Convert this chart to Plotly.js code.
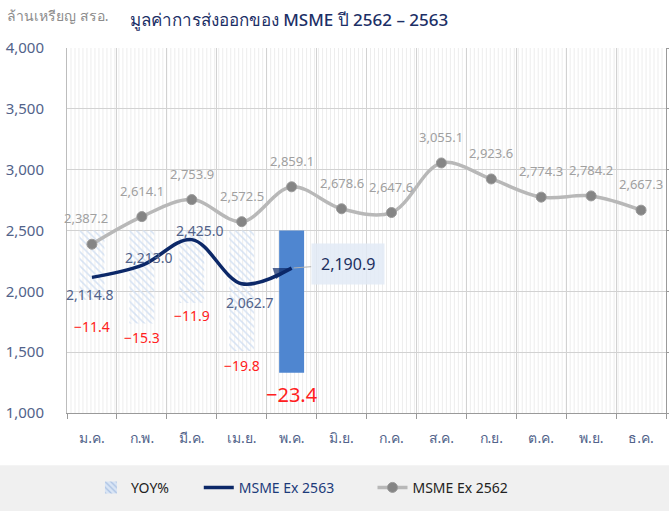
<!DOCTYPE html>
<html>
<head>
<meta charset="utf-8">
<script src="https://cdn.plot.ly/plotly-3.0.1.min.js"></script>
<style>html,body{margin:0;padding:0;background:#fff;}#chart{width:669px;height:511px;}</style>
</head>
<body>
<div id="chart"></div>
<script>
const months = ['ม.ค.','ก.พ.','มี.ค.','เม.ย.','พ.ค.','มิ.ย.','ก.ค.','ส.ค.','ก.ย.','ต.ค.','พ.ย.','ธ.ค.'];
const ex2562 = [2387.2, 2614.1, 2753.9, 2572.5, 2859.1, 2678.6, 2647.6, 3055.1, 2923.6, 2774.3, 2784.2, 2667.3];
const ex2563 = [2114.8, 2213.0, 2425.0, 2062.7, 2190.9];
const yoy = [-11.4, -15.3, -11.9, -19.8, -23.4];
const yTicks = [1000, 1500, 2000, 2500, 3000, 3500, 4000];

const FONT = 'Noto Sans, DejaVu Sans, sans-serif';
const fmt = v => v.toLocaleString('en-US', {minimumFractionDigits: 1, maximumFractionDigits: 1});
const m2563 = months.slice(0, ex2563.length);
const mYoy = months.slice(0, yoy.length);
const last = ex2563.length - 1;

const traces = [
  {
    type: 'bar', name: 'YOY%', x: mYoy, y: yoy, yaxis: 'y', width: 0.5,
    marker: {
      color: yoy.map((v, i) => i === yoy.length - 1 ? '#4f86d0' : '#d6e2f3'),
      line: {width: 0},
      pattern: {shape: yoy.map((v, i) => i === yoy.length - 1 ? '' : '\\'), fgcolor: '#a9c0e2', bgcolor: '#d9e5f5', size: 5, solidity: 0.3}
    },
    legend: 'legend', hoverinfo: 'skip'
  },
  {
    type: 'scatter', mode: 'lines+markers', name: 'MSME Ex 2562', x: months, y: ex2562, yaxis: 'y2',
    line: {color: '#b8b8b8', width: 3.5, shape: 'spline', smoothing: 1},
    marker: {color: '#858585', size: 10, line: {color: '#9a9a9a', width: 1}},
    legend: 'legend3', hoverinfo: 'skip'
  },
  {
    type: 'scatter', mode: 'lines+markers', name: 'MSME Ex 2563', x: m2563, y: ex2563, yaxis: 'y2',
    line: {color: '#0c2868', width: 3.5, shape: 'spline', smoothing: 1},
    marker: {color: '#0c2868', symbol: 'arrow', angleref: 'previous', line: {width: 0},
             size: ex2563.map((v, i) => i === last ? 19 : 0)},
    legend: 'legend2', hoverinfo: 'skip'
  }
];

const annotations = [];
// 2562 labels
ex2562.forEach((v, i) => annotations.push({
  x: months[i], y: v, yref: 'y2', text: fmt(v), showarrow: false, yshift: 26,
  xshift: i === 0 ? -6 : 0,
  font: {family: FONT, size: 13, color: '#a0a0a0'}
}));
// 2563 labels (except last, shown in box)
const s63 = [[-2, -17], [7, 8], [8, 9], [8, -19]];
ex2563.slice(0, last).forEach((v, i) => annotations.push({
  x: m2563[i], y: v, yref: 'y2', text: fmt(v), showarrow: false, xshift: s63[i][0], yshift: s63[i][1],
  font: {family: FONT, size: 14, color: '#52638a'}
}));
// 2563 last value box
annotations.push({
  x: m2563[last], y: ex2563[last], yref: 'y2', text: fmt(ex2563[last]), showarrow: true, arrowhead: 0,
  arrowwidth: 1, arrowcolor: '#b0b0b0', ax: 56, ay: -4, standoff: 2,
  bgcolor: 'rgba(226,234,246,0.85)', borderpad: 9,
  font: {family: FONT, size: 16, color: '#1c3060'}
});
// YOY labels
const sy = [-27, -14, -13, -15, -22];
yoy.forEach((v, i) => annotations.push({
  x: mYoy[i], y: v, yref: 'y', text: '−' + Math.abs(v).toFixed(1), showarrow: false, yshift: sy[i],
  font: {family: FONT, size: i === yoy.length - 1 ? 20 : 14, color: '#ff2020'}
}));
// unit label
annotations.push({
  xref: 'paper', yref: 'paper', x: -0.103, y: 1.09, xanchor: 'left', yanchor: 'middle',
  text: 'ล้านเหรียญ สรอ.', showarrow: false, font: {family: FONT, size: 14, color: '#8c8c8c'}
});

// background decoration: legend band + fine vertical stripes
const shapes = [
  {type: 'rect', xref: 'paper', yref: 'paper', x0: -0.2, x1: 1.1, y0: -0.28, y1: -0.143,
   fillcolor: '#f0f0f0', line: {width: 0}, layer: 'below'}
];
const nStripes = 150;
for (let k = 1; k < nStripes; k++) {
  shapes.push({type: 'line', xref: 'paper', yref: 'paper', x0: k / nStripes, x1: k / nStripes, y0: 0, y1: 1,
               line: {color: '#ededed', width: 1}, layer: 'below'});
}

const layout = {
  width: 669, height: 511,
  margin: {l: 67, r: 3, t: 48, b: 98},
  paper_bgcolor: '#ffffff', plot_bgcolor: 'rgba(0,0,0,0)',
  font: {family: FONT},
  title: {text: 'มูลค่าการส่งออกของ MSME ปี 2562 – 2563', x: 0.432, xanchor: 'center', y: 0.96, yanchor: 'middle',
          font: {family: FONT, size: 17, color: '#1c2f66', weight: 500}},
  showlegend: true,
  barmode: 'overlay',
  xaxis: {
    type: 'category', categoryorder: 'array', categoryarray: months,
    range: [-0.5, 11.5], tickson: 'boundaries', ticks: 'outside', ticklen: 5, tickcolor: '#9a9a9a',
    showgrid: true, gridcolor: '#d2d2d2', gridwidth: 1, ticklabelstandoff: 12,
    showline: true, linecolor: '#9a9a9a', linewidth: 1,
    tickfont: {family: FONT, size: 14, color: '#52638a'}, zeroline: false
  },
  yaxis: {
    side: 'right', range: [-30, 30], dtick: 10, showticklabels: false,
    showgrid: false, zeroline: false, showline: true, linecolor: '#9a9a9a', ticks: 'outside', ticklen: 4, tickcolor: '#9a9a9a'
  },
  yaxis2: {
    overlaying: 'y', side: 'left', anchor: 'x',
    range: [1000, 4000], tickvals: yTicks, ticktext: yTicks.map(v => v.toLocaleString('en-US')),
    showgrid: true, gridcolor: '#d2d2d2', gridwidth: 1, zeroline: false,
    showline: true, linecolor: '#bdbdbd', ticks: '', ticklabelstandoff: 19,
    tickfont: {family: FONT, size: 15, color: '#52638a'}
  },
  legend: {orientation: 'h', x: 0.04, xanchor: 'left', y: -0.205, yanchor: 'middle', bgcolor: 'rgba(0,0,0,0)',
           font: {family: FONT, size: 14, color: '#222222'}},
  legend2: {orientation: 'h', x: 0.22, xanchor: 'left', y: -0.205, yanchor: 'middle', bgcolor: 'rgba(0,0,0,0)',
           font: {family: FONT, size: 14, color: '#1c3a7a'}},
  legend3: {orientation: 'h', x: 0.51, xanchor: 'left', y: -0.205, yanchor: 'middle', bgcolor: 'rgba(0,0,0,0)',
           font: {family: FONT, size: 14, color: '#222222'}},
  shapes: shapes,
  annotations: annotations
};

Plotly.newPlot('chart', traces, layout, {displayModeBar: false, staticPlot: true});
</script>
</body>
</html>
